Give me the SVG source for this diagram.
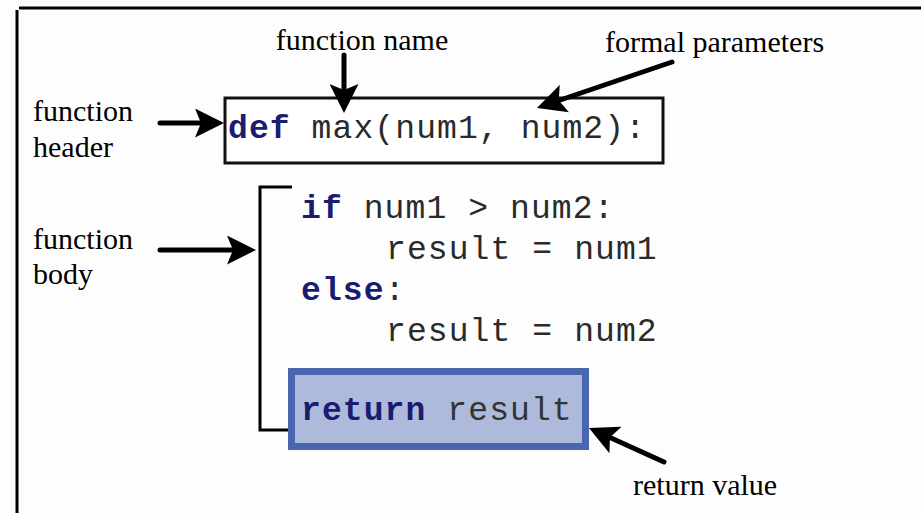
<svg xmlns="http://www.w3.org/2000/svg" width="921" height="513" viewBox="0 0 921 513">
  <defs>
    <marker id="ah" viewBox="0 0 29 29" markerWidth="29" markerHeight="29" refX="9" refY="14.5" orient="auto" markerUnits="userSpaceOnUse">
      <path d="M0,0 L29,14.5 L0,29 L6,14.5 Z" fill="#000"/>
    </marker>
  </defs>
  <style>
    .lbl { font-family: "Liberation Serif", "Times New Roman", serif; font-size: 30px; fill: #000; }
    .code { font-family: "Liberation Mono", "Courier New", monospace; font-size: 33px; letter-spacing: 1.1px; fill: #2a2a2a; white-space: pre; }
    .kw { font-weight: bold; fill: #1b1b6f; }
    .arrow { stroke: #000; stroke-width: 5; stroke-linecap: round; fill: none; marker-end: url(#ah); }
  </style>
  <rect x="0" y="0" width="921" height="513" fill="#fdfdfd"/>
  <g id="frame" stroke="#000" stroke-width="3" fill="none">
    <line x1="19" y1="8" x2="921" y2="8"/>
    <line x1="17" y1="10" x2="17" y2="513"/>
  </g>

  <g id="header">
    <rect x="225" y="98" width="438" height="65" fill="#fff" stroke="#111" stroke-width="3"/>
    <text class="code" x="228" y="138"><tspan class="kw">def</tspan> max(num1, num2):</text>
  </g>

  <g id="body">
    <path d="M292,187 H260 V430 H291" fill="none" stroke="#000" stroke-width="3"/>
    <text class="code" x="301" y="218"><tspan class="kw">if</tspan> num1 &gt; num2:</text>
    <text class="code" x="386" y="259">result = num1</text>
    <text class="code" x="301" y="300"><tspan class="kw">else</tspan>:</text>
    <text class="code" x="386" y="341">result = num2</text>
  </g>

  <g id="return">
    <rect x="291.5" y="371.5" width="294" height="75" fill="#adbadb" stroke="#4a66ae" stroke-width="7"/>
    <text class="code" x="301" y="420"><tspan class="kw">return</tspan><tspan fill="#333"> result</tspan></text>
  </g>

  <g id="label-function-name"><text class="lbl" x="362" y="50" text-anchor="middle">function name</text></g>
  <g id="label-formal-parameters"><text class="lbl" x="605" y="52">formal parameters</text></g>
  <g id="label-function-header"><text class="lbl" x="33" y="121">function</text><text class="lbl" x="33" y="157">header</text></g>
  <g id="label-function-body"><text class="lbl" x="33" y="249">function</text><text class="lbl" x="33" y="284">body</text></g>
  <g id="label-return-value"><text class="lbl" x="633" y="495">return value</text></g>

  <g id="connectors">
    <line class="arrow" x1="344" y1="55" x2="344" y2="93"/>
    <line class="arrow" x1="160" y1="123" x2="204" y2="123"/>
    <line class="arrow" x1="672" y1="62" x2="555.9" y2="101.5"/>
    <line class="arrow" x1="160" y1="250" x2="236" y2="250"/>
    <line class="arrow" x1="664" y1="462" x2="607.2" y2="436.3"/>
  </g>
</svg>
